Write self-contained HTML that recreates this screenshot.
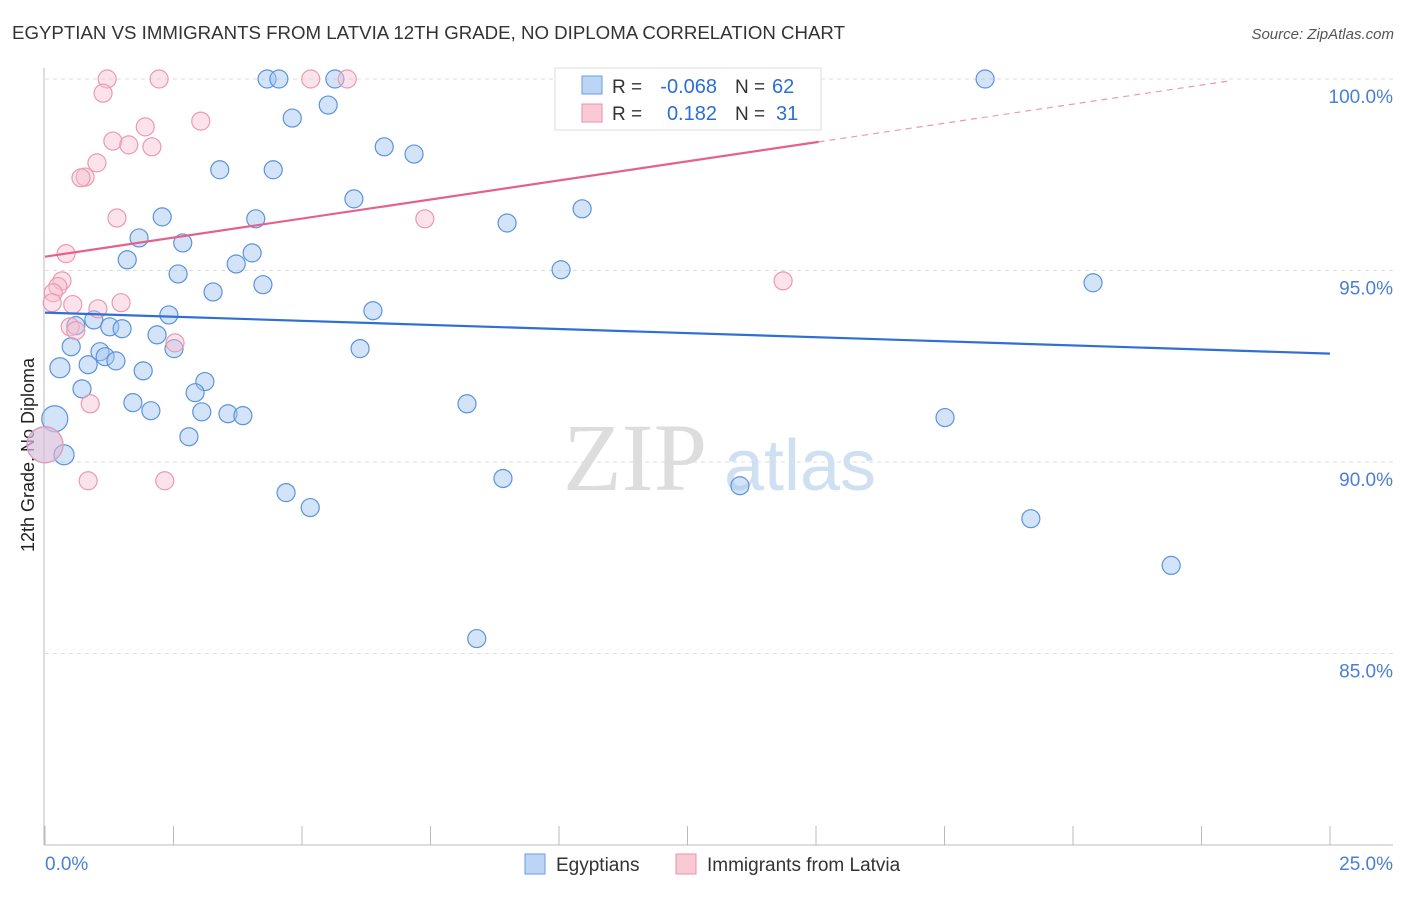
<!DOCTYPE html>
<html><head><meta charset="utf-8"><style>
body{margin:0;background:#fff;font-family:"Liberation Sans",sans-serif}
</style></head><body>
<svg id="c" width="1406" height="892" xmlns="http://www.w3.org/2000/svg">
<text x="12" y="39" font-size="18" fill="#333" textLength="833" lengthAdjust="spacingAndGlyphs">EGYPTIAN VS IMMIGRANTS FROM LATVIA 12TH GRADE, NO DIPLOMA CORRELATION CHART</text>
<text x="1394" y="39" font-size="15" fill="#555" text-anchor="end" font-style="italic">Source: ZipAtlas.com</text>
<text x="34" y="455" font-size="18" fill="#222" text-anchor="middle" transform="rotate(-90 34 455)">12th Grade, No Diploma</text>
<g><text x="635" y="490" font-size="96" fill="#ddd" font-family="Liberation Serif" text-anchor="middle">ZIP</text><text x="800" y="490" font-size="72" fill="#cfe0f3" text-anchor="middle">atlas</text></g>
<g id="grid"></g><g id="axes"></g><g id="pts"></g><g id="trend"></g>
<g>
<rect x="555" y="68" width="266" height="62" fill="#fff" stroke="#ddd"/>
<rect x="582" y="76" width="20" height="18" fill="#bcd4f6" stroke="#6a9be0"/>
<rect x="582" y="104" width="20" height="18" fill="#f9c9d6" stroke="#e891ab"/>
<text x="612" y="93" font-size="19" fill="#333">R =</text>
<text x="717" y="93" font-size="20" fill="#2b6fd6" text-anchor="end">-0.068</text>
<text x="735" y="93" font-size="19" fill="#333">N =</text>
<text x="772" y="93" font-size="20" fill="#2b6fd6">62</text>
<text x="612" y="120" font-size="19" fill="#333">R =</text>
<text x="717" y="120" font-size="20" fill="#2b6fd6" text-anchor="end">0.182</text>
<text x="735" y="120" font-size="19" fill="#333">N =</text>
<text x="776" y="120" font-size="20" fill="#2b6fd6">31</text>
</g>
<g>
<rect x="525" y="854" width="20" height="20" fill="#bcd4f6" stroke="#6a9be0"/>
<text x="556" y="871" font-size="19" fill="#333">Egyptians</text>
<rect x="676" y="854" width="20" height="20" fill="#f9c9d6" stroke="#e891ab"/>
<text x="707" y="871" font-size="19" fill="#333">Immigrants from Latvia</text>
</g>
</svg>
<script>
const blueX=[4.32,4.55,5.64,18.29,5.51,4.81,6.60,7.18,3.40,4.44,6.01,10.45,2.28,4.10,8.99,1.83,2.68,1.60,4.03,3.72,2.59,10.04,4.24,3.27,20.39,6.38,2.41,0.95,0.60,1.26,1.50,2.18,0.51,2.51,6.13,1.07,1.17,1.38,0.29,0.84,1.91,3.11,0.72,2.92,1.71,2.06,3.05,3.56,3.85,8.21,17.51,0.19,2.80,0.0,0.37,8.91,13.52,4.69,5.16,19.18,21.91,8.40];
const blueY=[100,100,100,100,99.32,98.98,98.23,98.04,97.63,97.63,96.87,96.61,96.40,96.35,96.24,95.85,95.72,95.28,95.46,95.17,94.91,95.02,94.63,94.44,94.68,93.95,93.84,93.71,93.56,93.53,93.48,93.32,93.01,92.96,92.96,92.88,92.75,92.64,92.46,92.54,92.38,92.10,91.91,91.81,91.55,91.34,91.31,91.26,91.21,91.52,91.16,91.13,90.66,90.45,90.19,89.57,89.38,89.20,88.81,88.52,87.30,85.39];
const blueR=[9,9,9,9,9,9,9,9,9,9,9,9,9,9,9,9,9,9,9,9,9,9,9,9,9,9,9,9,9,9,9,9,9,9,9,9,9,9,10,9,9,9,9,9,9,9,9,9,9,9,9,13,9,18,10,9,9,9,9,9,9,9];
const pinkX=[1.21,2.22,5.17,5.88,1.13,3.03,1.95,1.32,1.63,2.08,1.01,0.78,0.70,1.40,7.39,0.41,14.36,0.33,0.25,0.16,0.14,0.54,1.48,1.03,0.49,0.60,2.53,0.88,0.84,2.33,0.0];
const pinkY=[100,100,100,100,99.63,98.90,98.75,98.38,98.28,98.23,97.81,97.44,97.42,96.37,96.35,95.44,94.73,94.73,94.58,94.42,94.16,94.11,94.16,94.0,93.53,93.43,93.11,91.52,89.51,89.51,90.45];
const xTicks=[0,2.5,5,7.5,10,12.5,15,17.5,20,22.5,25];
const yTicks=[85,90,95,100];
const yTickLabels=["85.0%","90.0%","95.0%","100.0%"];
const blueTrend=[93.9,92.83];
const pinkTrend=[95.36,100.34];
const NS="http://www.w3.org/2000/svg";
const X=v=>45+v/25*1285, Y=v=>79+(100-v)/20*766;
function mk(tag,at,parent){const e=document.createElementNS(NS,tag);for(const k in at)e.setAttribute(k,at[k]);document.getElementById(parent).appendChild(e);return e;}
yTicks.forEach((t,i)=>{
 const l=mk('line',{x1:45,x2:1393,y1:Y(t),y2:Y(t),stroke:'#ddd','stroke-dasharray':'4,4'},'grid');
 
 
 const tx=mk('text',{x:1393,y:Y(t)+24,'font-size':19,fill:'#4a7fd4','text-anchor':'end'},'grid');
 tx.textContent=yTickLabels[i];
 
 
});
const ax=mk('line',{x1:44,x2:44,y1:68,y2:845,stroke:'#bbb'},'axes');


const bx=mk('line',{x1:44,x2:1393,y1:845,y2:845,stroke:'#bbb'},'axes');


xTicks.forEach(t=>{
 const l=mk('line',{x1:X(t),x2:X(t),y1:826,y2:845,stroke:'#bbb'},'axes');
 
 
});
const xl0=mk('text',{x:45,y:870,'font-size':19,fill:'#4a7fd4'},'axes');xl0.textContent='0.0%';


const xl1=mk('text',{x:1393,y:870,'font-size':19,fill:'#4a7fd4','text-anchor':'end'},'axes');xl1.textContent='25.0%';


blueX.forEach((v,i)=>{
 const c=mk('circle',{cx:X(v),cy:Y(blueY[i]),r:blueR[i],fill:'rgba(160,196,240,0.45)',stroke:'#5b93de','stroke-width':1.2},'pts');
 
 
});
pinkX.forEach((v,i)=>{
 const c=mk('circle',{cx:X(v),cy:Y(pinkY[i]),r:i==30?18:9,fill:'rgba(248,190,208,0.45)',stroke:'#e99ab2','stroke-width':1.2},'pts');
 
 
});
const bt=mk('line',{x1:X(0),y1:Y(blueTrend[0]),x2:X(25),y2:Y(blueTrend[1]),stroke:'#2f6fd6','stroke-width':2.2},'trend');


const py=v=>pinkTrend[0]+(pinkTrend[1]-pinkTrend[0])*v/25;
const pt=mk('line',{x1:X(0),y1:Y(py(0)),x2:X(15.05),y2:Y(py(15.05)),stroke:'#e4628a','stroke-width':2.2},'trend');


const pd=mk('line',{x1:X(15.05),y1:Y(py(15.05)),x2:X(23),y2:Y(py(23)),stroke:'#e99ab2','stroke-width':1.2,'stroke-dasharray':'6,5'},'trend');


</script>
</body></html>
